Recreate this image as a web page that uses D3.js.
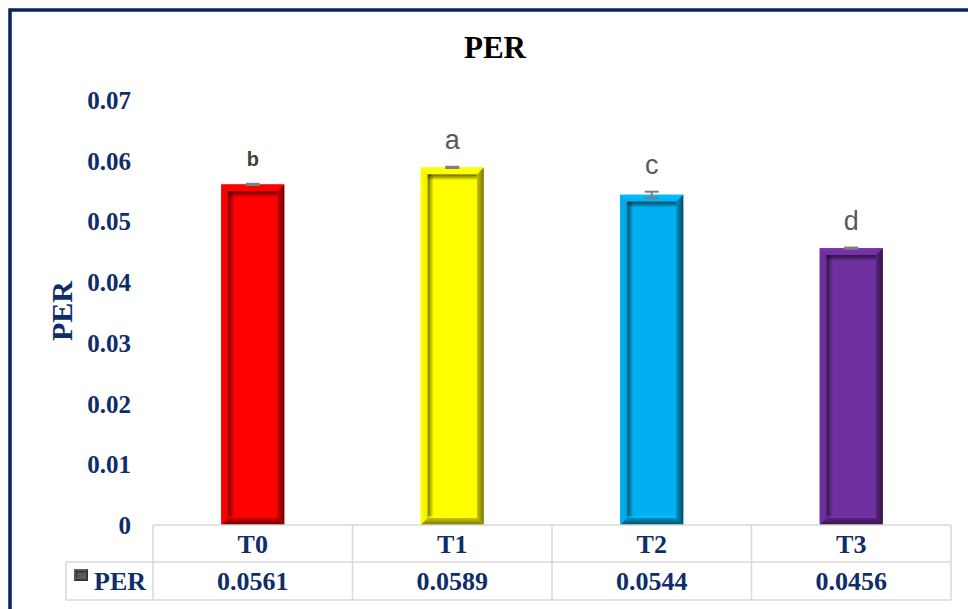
<!DOCTYPE html>
<html>
<head>
<meta charset="utf-8">
<script src="https://cdn.jsdelivr.net/npm/d3@7"></script>
<style>
  html, body { margin: 0; padding: 0; background: #fff; }
  svg { display: block; }
</style>
</head>
<body>
<svg id="chart" width="968" height="609"></svg>
<script>
// Protein efficiency ratio per treatment
const categories = ["T0", "T1", "T2", "T3"];
const perValues = [0.0561, 0.0589, 0.0544, 0.0456];
const perErrors = [0.0001, 0.0001, 0.0005, 0.0001];
const groupLetters = ["b", "a", "c", "d"];
const barColors = ["#FF0000", "#FFFF00", "#00B0F0", "#7030A0"];
const yTicks = [0, 0.01, 0.02, 0.03, 0.04, 0.05, 0.06, 0.07];
const tableValueLabels = ["0.0561", "0.0589", "0.0544", "0.0456"];

const navy = "#0F2D69";
const serif = "'Liberation Serif', 'Times New Roman', serif";
const sans = "'Liberation Sans', Arial, sans-serif";
const gridGray = "#D9D9D9";

const svg = d3.select("#chart");
const W = 968, H = 609;

svg.append("rect").attr("width", W).attr("height", H).attr("fill", "#fff");

// frame (only top and left edges fall inside the view)
svg.append("rect")
  .attr("x", 10).attr("y", 10)
  .attr("width", W + 40).attr("height", H + 40)
  .attr("fill", "none")
  .attr("stroke", "#0A2160")
  .attr("stroke-width", 3.5);

const plot = { left: 153, right: 951, top: 100, bottom: 525 };

const x = d3.scaleBand()
  .domain(categories)
  .range([plot.left, plot.right])
  .paddingInner(0).paddingOuter(0);

const y = d3.scaleLinear()
  .domain([0, 0.07])
  .range([plot.bottom, plot.top]);

const barW = x.bandwidth() * 0.316;

// title
svg.append("text")
  .attr("x", 495).attr("y", 58)
  .attr("text-anchor", "middle")
  .attr("font-family", serif)
  .attr("font-weight", "bold")
  .attr("font-size", 31)
  .attr("fill", "#000")
  .text("PER");

// y axis title
svg.append("text")
  .attr("transform", "translate(72,311) rotate(-90)")
  .attr("text-anchor", "middle")
  .attr("font-family", serif)
  .attr("font-weight", "bold")
  .attr("font-size", 30)
  .attr("fill", navy)
  .text("PER");

// y axis tick labels
const yAxis = d3.axisLeft(y)
  .tickValues(yTicks)
  .tickSize(0)
  .tickPadding(0)
  .tickFormat(d => d === 0 ? "0" : d3.format(".2f")(d));

const yAxisG = svg.append("g")
  .attr("transform", "translate(131,0)")
  .call(yAxis);
yAxisG.select(".domain").remove();
yAxisG.selectAll("text")
  .attr("font-family", serif)
  .attr("font-weight", "bold")
  .attr("font-size", 25)
  .attr("fill", navy)
  .attr("dy", "0.34em");

// gradients for bevelled bars
const defs = svg.append("defs");
function addGrad(id, x2, y2, stops) {
  const g = defs.append("linearGradient")
    .attr("id", id)
    .attr("x1", 0).attr("y1", 0).attr("x2", x2).attr("y2", y2);
  stops.forEach(s => g.append("stop")
    .attr("offset", s[0]).attr("stop-color", s[1]).attr("stop-opacity", s[2] == null ? 1 : s[2]));
  return "url(#" + id + ")";
}

function bevelBar(g, idx, x0, y0, w, h, col, b) {
  const c = d3.color(col);
  const dark1 = c.darker(0.7).formatHex();
  const dark2 = c.darker(2.2).formatHex();
  const light = c.brighter(0.25).formatHex();
  const base = c.formatHex();

  const topFill = addGrad("gt" + idx, 0, 1, [[0, light], [1, base]]);
  const leftFill = addGrad("gl" + idx, 1, 0, [[0, base], [1, c.darker(0.2).formatHex()]]);
  const rightFill = addGrad("gr" + idx, 1, 0, [[0, dark1], [1, dark2]]);
  const bottomFill = addGrad("gb" + idx, 0, 1, [[0, dark1], [1, dark2]]);
  const shTop = addGrad("st" + idx, 0, 1, [[0, "#000", 0.6], [1, "#000", 0]]);
  const shLeft = addGrad("sl" + idx, 1, 0, [[0, "#000", 0.55], [1, "#000", 0]]);

  g.append("rect").attr("x", x0).attr("y", y0).attr("width", w).attr("height", h).attr("fill", base);

  const poly = (pts, fill) => g.append("polygon")
    .attr("points", pts.map(p => p.join(",")).join(" "))
    .attr("fill", fill);

  poly([[x0, y0], [x0 + w, y0], [x0 + w - b, y0 + b], [x0 + b, y0 + b]], topFill);
  poly([[x0, y0], [x0 + b, y0 + b], [x0 + b, y0 + h - b], [x0, y0 + h]], leftFill);
  poly([[x0 + w, y0], [x0 + w, y0 + h], [x0 + w - b, y0 + h - b], [x0 + w - b, y0 + b]], rightFill);
  poly([[x0, y0 + h], [x0 + w, y0 + h], [x0 + w - b, y0 + h - b], [x0 + b, y0 + h - b]], bottomFill);

  // recessed inner face
  const ix = x0 + b, iy = y0 + b, iw = w - 2 * b, ih = h - 2 * b;
  const sh = Math.max(2, Math.round(b * 0.9));
  g.append("rect").attr("x", ix).attr("y", iy).attr("width", iw).attr("height", ih).attr("fill", base);
  g.append("rect").attr("x", ix).attr("y", iy).attr("width", iw).attr("height", sh).attr("fill", shTop);
  g.append("rect").attr("x", ix).attr("y", iy).attr("width", sh).attr("height", ih).attr("fill", shLeft);
  g.append("rect").attr("x", ix).attr("y", iy + ih - 2).attr("width", iw).attr("height", 2)
    .attr("fill", c.brighter(0.3).formatHex()).attr("opacity", 0.6);
}

// bars
const barsG = svg.append("g");
categories.forEach((cat, i) => {
  const x0 = x(cat) + (x.bandwidth() - barW) / 2;
  const y0 = y(perValues[i]);
  const h = y(0) - y0;
  bevelBar(barsG.append("g"), i, x0, y0, barW, h, barColors[i], 7);
});

// error bars
const errG = svg.append("g").attr("stroke", "#7F7F7F").attr("stroke-width", 2);
categories.forEach((cat, i) => {
  const cx = x(cat) + x.bandwidth() / 2;
  const yHi = y(perValues[i] + perErrors[i]);
  const yLo = y(perValues[i] - perErrors[i]);
  errG.append("line").attr("x1", cx).attr("x2", cx).attr("y1", yHi).attr("y2", yLo);
  errG.append("line").attr("x1", cx - 7).attr("x2", cx + 7).attr("y1", yHi).attr("y2", yHi);
  errG.append("line").attr("x1", cx - 7).attr("x2", cx + 7).attr("y1", yLo).attr("y2", yLo);
});

// significance letters
categories.forEach((cat, i) => {
  const bold = groupLetters[i] === "b";
  svg.append("text")
    .attr("x", x(cat) + x.bandwidth() / 2)
    .attr("y", y(perValues[i] + perErrors[i]) - 18)
    .attr("text-anchor", "middle")
    .attr("font-family", sans)
    .attr("font-weight", bold ? "bold" : "normal")
    .attr("font-size", bold ? 20 : 27)
    .attr("fill", bold ? "#404040" : "#595959")
    .text(groupLetters[i]);
});

// data table
const rowTop = plot.bottom, rowMid = 562, rowBot = 600, legendLeft = 66;
const tbl = svg.append("g").attr("stroke", gridGray).attr("stroke-width", 1.5).attr("fill", "none");
tbl.append("line").attr("x1", plot.left).attr("x2", plot.right).attr("y1", rowTop).attr("y2", rowTop);
tbl.append("line").attr("x1", legendLeft).attr("x2", plot.right).attr("y1", rowMid).attr("y2", rowMid);
tbl.append("line").attr("x1", legendLeft).attr("x2", plot.right).attr("y1", rowBot).attr("y2", rowBot);
tbl.append("line").attr("x1", legendLeft).attr("x2", legendLeft).attr("y1", rowMid).attr("y2", rowBot);
categories.concat([null]).forEach((cat, i) => {
  const xx = cat ? x(cat) : plot.right;
  tbl.append("line").attr("x1", xx).attr("x2", xx).attr("y1", rowTop).attr("y2", rowBot);
});

categories.forEach((cat, i) => {
  const cx = x(cat) + x.bandwidth() / 2;
  svg.append("text")
    .attr("x", cx).attr("y", 553)
    .attr("text-anchor", "middle")
    .attr("font-family", serif).attr("font-weight", "bold").attr("font-size", 26)
    .attr("fill", navy)
    .text(cat);
  svg.append("text")
    .attr("x", cx).attr("y", 590)
    .attr("text-anchor", "middle")
    .attr("font-family", serif).attr("font-weight", "bold").attr("font-size", 26)
    .attr("fill", navy)
    .text(tableValueLabels[i]);
});

// legend key in the table
const keyG = svg.append("g");
bevelBar(keyG, "k", 74, 569, 14, 12, "#595959", 2);
svg.append("text")
  .attr("x", 94).attr("y", 590)
  .attr("font-family", serif).attr("font-weight", "bold").attr("font-size", 26)
  .attr("fill", navy)
  .text("PER");
</script>
</body>
</html>
